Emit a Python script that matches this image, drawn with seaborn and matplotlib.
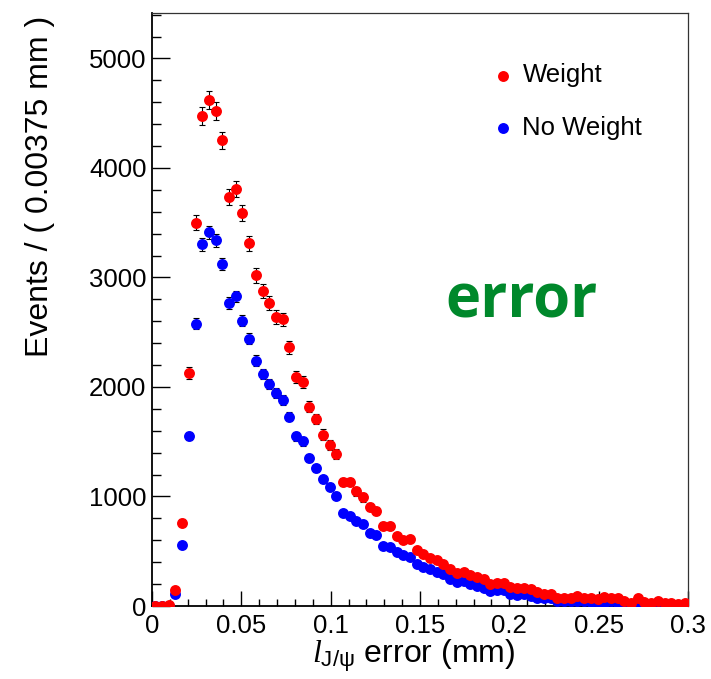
import numpy as np
import pandas as pd
import matplotlib
matplotlib.use("Agg")
import matplotlib.pyplot as plt
from matplotlib.ticker import MultipleLocator, FixedLocator, FixedFormatter
import seaborn as sns

sns.set_style("white")
plt.rcParams['font.family'] = ['Liberation Sans', 'DejaVu Sans']
plt.rcParams['mathtext.fontset'] = 'custom'
plt.rcParams['mathtext.it'] = 'Liberation Serif:italic'
plt.rcParams['mathtext.rm'] = 'Liberation Sans'
plt.rcParams['mathtext.sf'] = 'Liberation Sans'
plt.rcParams['text.color'] = 'black'
plt.rcParams['xtick.color'] = 'black'
plt.rcParams['ytick.color'] = 'black'
plt.rcParams['axes.labelcolor'] = 'black'

# ---- data ----
bin_width = 0.00375
n_bins = 80
bin_centers = [(i + 0.5) * bin_width for i in range(n_bins)]

weight_counts = [
    0, 0, 5, 150, 760, 2130, 3500, 4474, 4620, 4520,
    4254, 3733, 3806, 3587, 3312, 3019, 2873, 2766, 2638, 2617,
    2363, 2095, 2049, 1821, 1708, 1565, 1473, 1388, 1132, 1132,
    1046, 991, 906, 869, 732, 726, 640, 601, 610, 512,
    473, 436, 421, 387, 336, 305, 314, 284, 268, 244,
    204, 213, 213, 174, 162, 167, 153, 131, 113, 113,
    76, 76, 76, 91, 70, 70, 60, 85, 76, 70,
    50, 30, 70, 40, 30, 50, 30, 30, 20, 30,
]
noweight_counts = [
    0, 0, 3, 110, 558, 1552, 2577, 3303, 3413, 3340,
    3120, 2766, 2827, 2607, 2440, 2241, 2120, 2028, 1943, 1882,
    1729, 1549, 1503, 1348, 1256, 1156, 1089, 1006, 848, 823,
    778, 747, 665, 647, 549, 540, 497, 467, 448, 381,
    357, 336, 314, 290, 244, 222, 229, 198, 183, 168,
    137, 143, 143, 113, 101, 113, 91, 76, 70, 76,
    50, 46, 50, 50, 46, 40, 40, 30, 46, 30,
    20, 8, 20, 10, 10, 15, 10, 5, 5, 10,
]
# statistical uncertainties (weighted sample has inflated errors)
weight_err_scale = 1.2
series_names = ["Weight", "No Weight"]
series_colors = {"Weight": "#ff0000", "No Weight": "#0000ff"}

x_ticks = [0, 0.05, 0.1, 0.15, 0.2, 0.25, 0.3]
x_tick_labels = ["0", "0.05", "0.1", "0.15", "0.2", "0.25", "0.3"]
y_ticks = [0, 1000, 2000, 3000, 4000, 5000]
y_tick_labels = ["0", "1000", "2000", "3000", "4000", "5000"]

df = pd.DataFrame({
    "x": bin_centers * 2,
    "y": noweight_counts + weight_counts,
    "series": ["No Weight"] * n_bins + ["Weight"] * n_bins,
})
df["err"] = np.sqrt(np.array(df["y"], dtype=float))
df.loc[df.series == "Weight", "err"] *= weight_err_scale

# ---- figure ----
W, H = 711, 679
fig = plt.figure(figsize=(W / 100, H / 100), dpi=100)
ax = fig.add_axes([152 / W, (H - 606) / H, 536 / W, 593 / H])

MS = 62
for name in ["No Weight", "Weight"]:
    d = df[df.series == name]
    ax.errorbar(d.x, d.y, yerr=d.err, fmt='none', ecolor='black',
                elinewidth=0.8, capsize=2.2, capthick=0.8, zorder=2)
    sns.scatterplot(data=d, x="x", y="y", color=series_colors[name], s=MS,
                    linewidth=0, ax=ax, zorder=3, legend=False)

ax.set_xlim(0, 0.3)
ax.set_ylim(0, 5415)
ax.set_xlabel("")
ax.set_ylabel("")

ax.xaxis.set_major_locator(FixedLocator(x_ticks))
ax.xaxis.set_major_formatter(FixedFormatter(x_tick_labels))
ax.xaxis.set_minor_locator(MultipleLocator(0.01))
ax.yaxis.set_major_locator(FixedLocator(y_ticks))
ax.yaxis.set_major_formatter(FixedFormatter(y_tick_labels))
ax.yaxis.set_minor_locator(MultipleLocator(200))

ax.tick_params(axis='x', which='major', direction='in', length=11, width=1,
               labelsize=18.5, pad=6, top=False, bottom=True, colors='black')
ax.tick_params(axis='x', which='minor', direction='in', length=5, width=1,
               top=False, bottom=True, colors='black')
ax.tick_params(axis='y', which='major', direction='in', length=13, width=1,
               labelsize=18.5, pad=4, right=False, left=True, colors='black')
ax.tick_params(axis='y', which='minor', direction='in', length=6.5, width=1,
               right=False, left=True, colors='black')
for s in ["left", "bottom"]:
    ax.spines[s].set_linewidth(1.3)
    ax.spines[s].set_color("black")
for s in ["top", "right"]:
    ax.spines[s].set_linewidth(0.9)
    ax.spines[s].set_color("#333333")

# axis titles
fig.text(40 / W, 1 - 16 / H, "Events / ( 0.00375 mm )", rotation=90,
         ha='center', va='top', fontsize=23, color='black')
fig.text(414 / W, 1 - 656 / H, r"$\mathit{l}_{\mathrm{J/\psi}}$ error (mm)",
         ha='center', va='center', fontsize=23, color='black')

# legend
ax.scatter([], [], color=series_colors["Weight"], s=MS, linewidth=0, label="Weight")
ax.scatter([], [], color=series_colors["No Weight"], s=MS, linewidth=0, label="No Weight")
leg = ax.legend(loc='upper left', bbox_to_anchor=((480 - 152) / 536, (606 - 53) / 593),
                frameon=False, fontsize=18.5, handletextpad=0.25, labelspacing=1.1,
                borderaxespad=0, handlelength=1.0)
for t in leg.get_texts():
    t.set_color('black')

# annotation
ax.text((522 - 152) / 536, (606 - 302) / 593, "error", transform=ax.transAxes,
        ha='center', va='center', fontsize=43, fontweight='bold',
        color='#00882b', family='Open Sans')

fig.savefig("out.png", dpi=100)
